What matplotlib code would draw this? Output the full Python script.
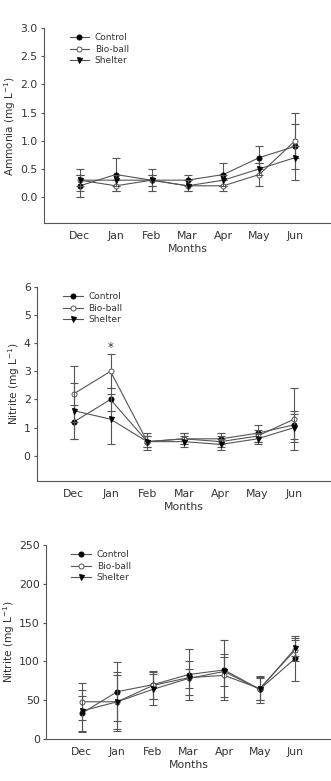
import matplotlib
matplotlib.use("Agg")
import matplotlib.pyplot as plt
from matplotlib.lines import Line2D

months = ["Dec", "Jan", "Feb", "Mar", "Apr", "May", "Jun"]
series_names = ["Control", "Bio-ball", "Shelter"]

# Panel 1: Ammonia
amm_control = [0.2, 0.4, 0.3, 0.3, 0.4, 0.7, 0.9]
amm_bioball = [0.3, 0.2, 0.3, 0.2, 0.2, 0.4, 1.0]
amm_shelter = [0.3, 0.3, 0.3, 0.2, 0.3, 0.5, 0.7]
amm_control_err = [0.2, 0.3, 0.2, 0.1, 0.2, 0.2, 0.6]
amm_bioball_err = [0.2, 0.1, 0.1, 0.1, 0.1, 0.2, 0.3]
amm_shelter_err = [0.1, 0.1, 0.1, 0.1, 0.1, 0.1, 0.2]

# Panel 2: Nitrite
nit_control = [1.2, 2.0, 0.5, 0.6, 0.6, 0.8, 1.1]
nit_bioball = [2.2, 3.0, 0.5, 0.6, 0.5, 0.7, 1.3]
nit_shelter = [1.6, 1.3, 0.5, 0.5, 0.4, 0.6, 1.0]
nit_control_err = [0.6, 0.4, 0.3, 0.2, 0.2, 0.3, 0.5]
nit_bioball_err = [1.0, 0.6, 0.2, 0.2, 0.2, 0.2, 1.1]
nit_shelter_err = [1.0, 0.9, 0.2, 0.2, 0.2, 0.2, 0.5]

# Panel 3: (labelled Nitrite)
n3_control = [33, 61, 70, 83, 89, 64, 104]
n3_bioball = [48, 48, 69, 79, 82, 65, 115]
n3_shelter = [36, 48, 64, 78, 87, 64, 117]
n3_control_err = [23, 38, 18, 33, 39, 17, 29]
n3_bioball_err = [24, 38, 17, 22, 28, 15, 15]
n3_shelter_err = [27, 35, 20, 12, 19, 14, 10]

FIG_W, FIG_H = 331, 781
fig = plt.figure(figsize=(FIG_W / 100, FIG_H / 100), dpi=100)

def ax_rect(left, right, top, bottom):
    return [left / FIG_W, 1 - bottom / FIG_H, (right - left) / FIG_W, (bottom - top) / FIG_H]

gray = "#555555"
txt = "#333333"

panels = [
    dict(rect=ax_rect(44, 331, 28, 223), ylim=(-0.46, 3.0), yticks=[0, 0.5, 1.0, 1.5, 2.0, 2.5, 3.0],
         fmt="{:.1f}", ylabel="Ammonia (mg L$^{-1}$)",
         data=[(amm_control, amm_control_err), (amm_bioball, amm_bioball_err), (amm_shelter, amm_shelter_err)],
         star=None),
    dict(rect=ax_rect(37, 331, 287, 481), ylim=(-0.9, 6.0), yticks=[0, 1, 2, 3, 4, 5, 6],
         fmt="{:.0f}", ylabel="Nitrite (mg L$^{-1}$)",
         data=[(nit_control, nit_control_err), (nit_bioball, nit_bioball_err), (nit_shelter, nit_shelter_err)],
         star=(1, 3.85)),
    dict(rect=ax_rect(46, 331, 545, 739), ylim=(0, 250), yticks=[0, 50, 100, 150, 200, 250],
         fmt="{:.0f}", ylabel="Nitrite (mg L$^{-1}$)",
         data=[(n3_control, n3_control_err), (n3_bioball, n3_bioball_err), (n3_shelter, n3_shelter_err)],
         star=None),
]

styles = [
    dict(marker="o", mfc="black", mec="black"),
    dict(marker="o", mfc="white", mec=gray),
    dict(marker="v", mfc="black", mec="black"),
]

x = list(range(len(months)))
for p in panels:
    ax = fig.add_axes(p["rect"])
    handles = []
    for name, (vals, errs), st in zip(series_names, p["data"], styles):
        ax.errorbar(x, vals, yerr=errs, fmt="none", ecolor=gray, elinewidth=0.8,
                    capsize=2.6, capthick=0.8)
        ax.plot(x, vals, color=gray, lw=0.8, marker=st["marker"], ms=3.6,
                mfc=st["mfc"], mec=st["mec"], mew=0.7)
        handles.append(Line2D([], [], color=gray, lw=0.8, marker=st["marker"], ms=3.6,
                              mfc=st["mfc"], mec=st["mec"], mew=0.7, label=name))
    ax.set_xlim(-1, 7)
    ax.set_ylim(*p["ylim"])
    ax.set_xticks(x)
    ax.set_xticklabels(months)
    ax.set_yticks(p["yticks"])
    ax.set_yticklabels([p["fmt"].format(v) for v in p["yticks"]])
    for s in ["top", "right"]:
        ax.spines[s].set_visible(False)
    for s in ["left", "bottom"]:
        ax.spines[s].set_color(gray)
        ax.spines[s].set_linewidth(0.8)
    ax.tick_params(axis="x", length=0, pad=5.5, labelsize=7.8, labelcolor=txt)
    ax.tick_params(axis="y", length=2.5, width=0.8, color=gray, pad=2, labelsize=7.8, labelcolor=txt)
    ax.set_xlabel("Months", fontsize=7.8, color=txt, labelpad=2.5)
    ax.set_ylabel(p["ylabel"], fontsize=7.6, color=txt, labelpad=1.5)
    if p["star"] is not None:
        ax.text(p["star"][0], p["star"][1], "*", ha="center", va="center", fontsize=8.5, color=txt)
    leg = ax.legend(handles=handles, loc="upper left", bbox_to_anchor=(0.07, 1.0), frameon=False,
                    fontsize=6.5, handlelength=2.2, handletextpad=0.6, labelspacing=0.25,
                    borderaxespad=0.2)
    for t in leg.get_texts():
        t.set_color(txt)

fig.savefig("out.png", dpi=100)
